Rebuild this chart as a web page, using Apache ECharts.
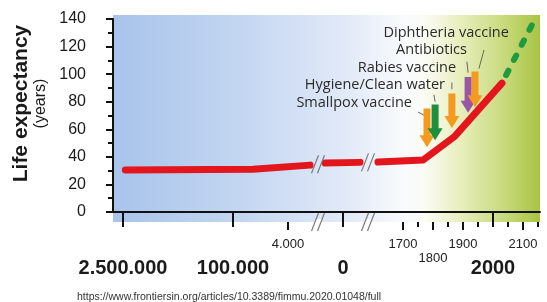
<!DOCTYPE html>
<html>
<head>
<meta charset="utf-8">
<script src="https://cdn.jsdelivr.net/npm/echarts@6/dist/echarts.min.js"></script>
<style>
  html, body { margin: 0; padding: 0; background: #fff; }
  #main { width: 547px; height: 302px; }
</style>
</head>
<body>
<div id="main"></div>
<script>
// 数据 (years; negative = before year 0)
var lifeYears = [-2450000, -65000, -2400, null, -1300, 480, null, 990, 1767, 1873, 2030];
var lifeValues = [30.5, 31, 34, null, 35.5, 36, null, 36.2, 37.7, 55, 93.5];
var forecastYears = [2030, 2140];
var forecastValues = [93.5, 140];

var majorTickYears = [-2500000, -100000, 0, 2000];
var majorLabels = ['2.500.000', '100.000', '0', '2000'];
var smallTickYears = [-4000, 1700, 1800, 1900, 2100];
var smallLabelYears = [-4000, 1700, 1900, 2100];
var smallLabels = ['4.000', '1700', '1900', '2100'];
var lowLabelYears = [1800];
var lowLabels = ['1800'];
var halfTickYears = [1750, 1850, 1950, 2050, 2150];

var breakYears = [-1818, 708];
var breakLevels = [34.7, 36];

var eventNames = ['Smallpox vaccine', 'Hygiene/Clean water', 'Rabies vaccine', 'Antibiotics', 'Diphtheria vaccine'];
var eventYears = [1780, 1807, 1863, 1917, 1940];
var arrowTop = [75, 78, 86, 98, 102];
var arrowTip = [47, 52, 61, 72, 76];
var labelYears = [1730, 1840, 1877, 1913, 2053];
var labelValues = [79, 92, 104.5, 117.5, 130];
var leaderFrom = [[1750, 72.5], [1803, 85], [1863, 94], [1913, 109], [1970, 117.5]];
var leaderTo = [[1770, 70.3], [1807, 80], [1863, 89], [1917, 101], [1953, 104]];

var arrowColors = ['#f39a1f', '#1e8f3c', '#f39a1f', '#9a55a8', '#f39a1f'];

// broken time scale: anchors of year -> axis units
var scaleAnchors = [[-2500000, 0], [-100000, 110], [-4000, 165], [0, 220], [1700, 280], [2150, 415]];
function xPos(year) {
    for (var i = 1; i < scaleAnchors.length; i++) {
        var a = scaleAnchors[i - 1], b = scaleAnchors[i];
        if (year <= b[0] || i === scaleAnchors.length - 1) {
            return a[1] + (year - a[0]) / (b[0] - a[0]) * (b[1] - a[1]);
        }
    }
}
function labelFor(years, labels) {
    return function (v) {
        for (var i = 0; i < years.length; i++) {
            if (Math.abs(xPos(years[i]) - v) < 0.01) return labels[i];
        }
        return '';
    };
}
function toData(xs, vs) {
    return xs.map(function (x, i) { return x === null ? ['-', '-'] : [xPos(x), vs[i]]; });
}

var X_MIN = -10, X_MAX = 417;
var Y_MIN = -7.25, Y_MAX = 142.9;
var txt = '#1a1a1a';

function xAxisBase(extra) {
    var o = {
        type: 'value', gridIndex: 0, min: X_MIN, max: X_MAX, position: 'bottom',
        splitLine: { show: false },
        axisLine: { show: false },
        axisTick: { show: false },
        axisLabel: { show: false }
    };
    for (var k in extra) o[k] = extra[k];
    return o;
}

var myChart = echarts.init(document.getElementById('main'));

var option = {
    animation: false,
    title: {
        text: 'https://www.frontiersin.org/articles/10.3389/fimmu.2020.01048/full',
        left: 72, top: 287,
        textStyle: { fontSize: 10.5, fontWeight: 'normal', color: '#333', fontFamily: 'Liberation Sans' }
    },
    grid: [
        {
            left: 113, top: 15, width: 427, height: 207, show: true, borderWidth: 0,
            backgroundColor: new echarts.graphic.LinearGradient(0, 0, 1, 0, [
                { offset: 0, color: '#a8c4eb' },
                { offset: 0.3, color: '#c3d6f1' },
                { offset: 0.55, color: '#e2eaf8' },
                { offset: 0.68, color: '#f8fafd' },
                { offset: 0.73, color: '#fbfcf4' },
                { offset: 0.82, color: '#e6edb8' },
                { offset: 0.92, color: '#c6d97a' },
                { offset: 1, color: '#a8c443' }
            ])
        },
        { left: 113, top: 19, width: 427, height: 193, show: false }
    ],
    xAxis: [
        xAxisBase({
            axisLine: { show: true, lineStyle: { color: '#111', width: 2 } },
            axisTick: { show: true, customValues: majorTickYears.map(xPos), length: 15, lineStyle: { color: '#111', width: 2 } },
            axisLabel: {
                show: true, customValues: majorTickYears.map(xPos), margin: 36,
                formatter: labelFor(majorTickYears, majorLabels),
                fontSize: 20, fontWeight: 'bold', color: txt, fontFamily: 'Liberation Sans'
            }
        }),
        xAxisBase({
            axisTick: { show: true, customValues: smallTickYears.map(xPos), length: 8, lineStyle: { color: '#111', width: 2 } },
            axisLabel: {
                show: true, customValues: smallLabelYears.map(xPos), margin: 16,
                formatter: labelFor(smallLabelYears, smallLabels),
                fontSize: 13, color: '#222', fontFamily: 'Liberation Sans'
            }
        }),
        xAxisBase({
            axisTick: { show: true, customValues: halfTickYears.map(xPos), length: 5, lineStyle: { color: '#111', width: 2 } }
        }),
        xAxisBase({
            axisLabel: {
                show: true, customValues: lowLabelYears.map(xPos), margin: 30,
                formatter: labelFor(lowLabelYears, lowLabels),
                fontSize: 13, color: '#222', fontFamily: 'Liberation Sans'
            }
        }),
        { type: 'value', gridIndex: 1, min: 0, max: 1, show: false }
    ],
    yAxis: [
        { type: 'value', gridIndex: 0, min: Y_MIN, max: Y_MAX, show: false },
        {
            type: 'value', gridIndex: 1, min: 0, max: 140, interval: 20, offset: 11,
            splitLine: { show: false },
            axisLine: { show: true, lineStyle: { color: '#111', width: 2 } },
            axisTick: { show: true, length: 7, lineStyle: { color: '#111', width: 2 } },
            minorTick: { show: true, splitNumber: 2, length: 5, lineStyle: { color: '#111', width: 2 } },
            axisLabel: { margin: 16, fontSize: 16, color: txt, fontFamily: 'Liberation Sans' },
            name: '{a|Life expectancy}\n{b|(years)}',
            nameLocation: 'middle', nameRotate: 90, nameGap: 41,
            nameTextStyle: {
                padding: [0, 0, 0, 24],
                rich: {
                    a: { fontSize: 21, fontWeight: 'bold', color: txt, fontFamily: 'Liberation Sans', lineHeight: 21 },
                    b: { fontSize: 16, color: txt, fontFamily: 'Liberation Sans', lineHeight: 17 }
                }
            }
        }
    ],
    series: [
        {
            name: 'forecast', type: 'line', xAxisIndex: 0, yAxisIndex: 0, z: 3,
            showSymbol: false, silent: true,
            data: toData(forecastYears, forecastValues),
            lineStyle: { color: '#1f9a3f', width: 6, type: [5, 12], dashOffset: -9, cap: 'round' }
        },
        {
            name: 'life expectancy', type: 'line', xAxisIndex: 0, yAxisIndex: 0, z: 4,
            showSymbol: false, silent: true, connectNulls: false,
            data: toData(lifeYears, lifeValues),
            lineStyle: { color: '#e4161d', width: 7, cap: 'round', join: 'round' }
        },
        {
            name: 'events', type: 'custom', xAxisIndex: 0, yAxisIndex: 0, z: 5, silent: true,
            data: eventYears.map(function (y, i) { return [xPos(y), arrowTip[i]]; }),
            renderItem: function (params, api) {
                var i = params.dataIndex;
                var top = api.coord([xPos(eventYears[i]), arrowTop[i]]);
                var tip = api.coord([xPos(eventYears[i]), arrowTip[i]]);
                var x = top[0], sw = 3.5, hw = 7.5, hh = 12;
                var lab = api.coord([xPos(labelYears[i]), labelValues[i]]);
                var l1 = api.coord([xPos(leaderFrom[i][0]), leaderFrom[i][1]]);
                var l2 = api.coord([xPos(leaderTo[i][0]), leaderTo[i][1]]);
                return {
                    type: 'group',
                    children: [
                        {
                            type: 'text', x: lab[0], y: lab[1],
                            style: {
                                text: eventNames[i], fill: '#2a2a2a', fontSize: 14.5, fontFamily: 'Open Sans',
                                align: 'right', verticalAlign: 'middle'
                            }
                        },
                        {
                            type: 'line',
                            shape: { x1: l1[0], y1: l1[1], x2: l2[0], y2: l2[1] },
                            style: { stroke: '#666', lineWidth: 1 }
                        },
                        {
                            type: 'polygon',
                            shape: {
                                points: [
                                    [x - sw, top[1]], [x + sw, top[1]], [x + sw, tip[1] - hh],
                                    [x + hw, tip[1] - hh], [x, tip[1]], [x - hw, tip[1] - hh], [x - sw, tip[1] - hh]
                                ]
                            },
                            style: { fill: arrowColors[i] }
                        }
                    ]
                };
            }
        },
        {
            name: 'breaks', type: 'custom', xAxisIndex: 0, yAxisIndex: 0, z: 6, silent: true,
            data: breakYears.map(function (y, i) { return [xPos(y), breakLevels[i]]; }),
            renderItem: function (params, api) {
                var onLine = api.coord([api.value(0), api.value(1)]);
                var onAxis = api.coord([api.value(0), Y_MIN]);
                var kids = [];
                [onLine, onAxis].forEach(function (p, k) {
                    var cx = p[0], cy = p[1], h = 9, d = 3.5, s = 3;
                    if (k === 1) {
                        kids.push({
                            type: 'polygon',
                            shape: { points: [[cx - s - d * 0.35, cy + 3], [cx + s - d * 0.35, cy + 3], [cx + s + d * 0.35, cy - 3], [cx - s + d * 0.35, cy - 3]] },
                            style: { fill: '#fff' }
                        });
                    }
                    [-s, s].forEach(function (o) {
                        kids.push({
                            type: 'line',
                            shape: { x1: cx + o - d, y1: cy + h, x2: cx + o + d, y2: cy - h },
                            style: { stroke: '#7a7a7a', lineWidth: 1.2 }
                        });
                    });
                });
                return { type: 'group', children: kids };
            }
        }
    ]
};

myChart.setOption(option);
</script>
</body>
</html>
